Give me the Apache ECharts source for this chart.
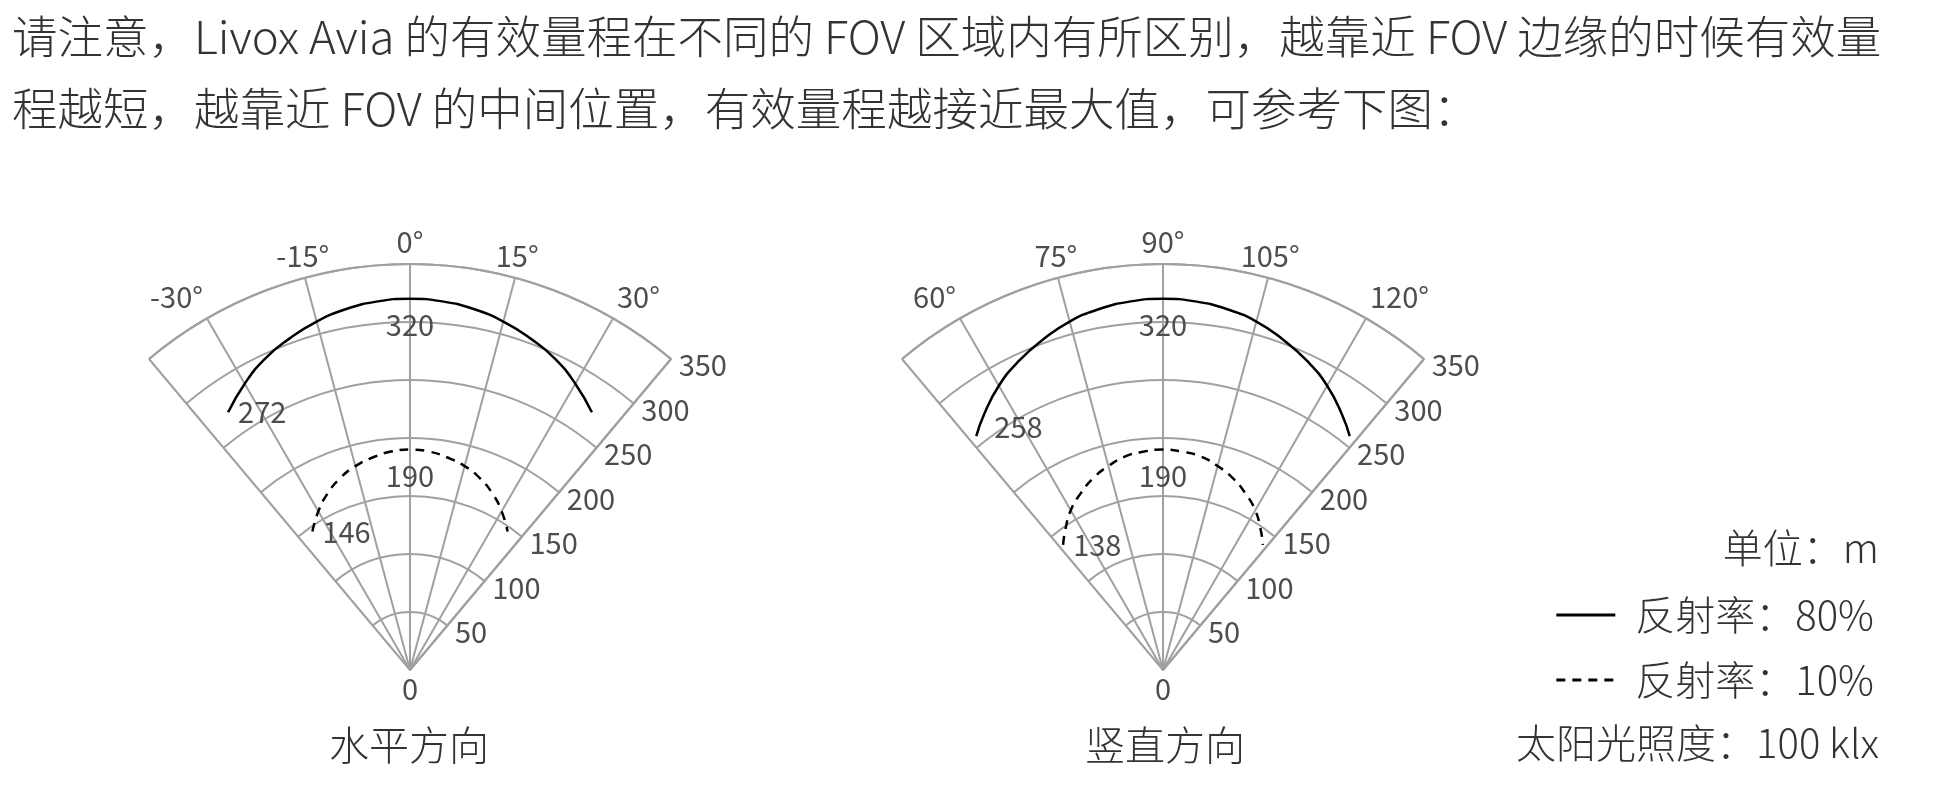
<!DOCTYPE html>
<html>
<head>
<meta charset="utf-8">
<title>Livox Avia 有效量程</title>
<script src="https://cdn.jsdelivr.net/npm/echarts@6.0.0/dist/echarts.min.js"></script>
<style>
  html, body { margin: 0; padding: 0; background: #fff; }
  #main { width: 1944px; height: 797px; }
</style>
</head>
<body>
<div id="main"></div>
<script>
// 水平方向：角度（°）与有效量程（m）
var hAngles = [-35.2, -30, -25, -20, -15, -10, -5, 0, 5, 10, 15, 20, 25, 30, 35.2];
var hRange80 = [272, 285, 296, 304, 311, 316, 319, 320, 319, 316, 311, 304, 296, 285, 272];
var hRange10 = [146, 158, 168, 176, 182, 186, 189, 190, 189, 186, 182, 176, 168, 158, 146];

// 竖直方向
var vAngles = [51.4, 55, 60, 65, 70, 75, 80, 85, 90, 95, 100, 105, 110, 115, 120, 125, 128.6];
var vRange80 = [258, 269, 283, 294, 303, 311, 316, 319, 320, 319, 316, 311, 303, 294, 283, 269, 258];
var vRange10 = [138, 147, 159, 168, 176, 182, 187, 189, 190, 189, 187, 182, 176, 168, 159, 147, 138];

var seriesNames = ['反射率：80%', '反射率：10%'];

var font = '"Noto Sans CJK SC", "Noto Sans", sans-serif';
var gridColor = '#a0a0a0';
var labelColor = '#4d4d4d';
var textColor = '#333';

var chart = echarts.init(document.getElementById('main'));

// 两个扇形的中心
var centers = [[410, 670], [1163, 670]];
var R = 406;

// 每个图两个 polar：A 画外弧、边线和量程圆弧，B 画中间的角度线和标签
var polars = [];
var angleAxes = [];
var radiusAxes = [];
centers.forEach(function (c, k) {
  var base = k * 2;
  var amin = k === 0 ? -45 : 45;
  var amax = k === 0 ? 45 : 135;
  polars.push({ center: c, radius: R });
  polars.push({ center: c, radius: R });
  angleAxes.push({
    polarIndex: base,
    type: 'value', min: 0, max: 80, interval: 40,
    startAngle: 50, endAngle: 130, clockwise: false,
    axisLine: { show: true, lineStyle: { color: gridColor, width: 2 } },
    axisTick: { show: false },
    axisLabel: { show: false },
    splitLine: { show: true, lineStyle: { color: gridColor, width: 2 } }
  });
  angleAxes.push({
    polarIndex: base + 1,
    type: 'value', min: amin, max: amax, interval: 15,
    startAngle: 135, endAngle: 45, clockwise: true,
    axisLine: { show: false },
    axisTick: { show: false },
    axisLabel: {
      margin: 8, fontSize: 29, color: labelColor, fontFamily: font,
      formatter: function (v) {
        return (v === amin || v === amax) ? '' : v + '°';
      }
    },
    splitLine: {
      show: true,
      lineStyle: {
        color: ['rgba(0,0,0,0)', gridColor, gridColor, gridColor, gridColor, gridColor, 'rgba(0,0,0,0)'],
        width: 2
      }
    }
  });
  radiusAxes.push({
    polarIndex: base,
    type: 'value', min: 0, max: 350, interval: 50,
    axisLine: { show: true, lineStyle: { color: gridColor, width: 2 } },
    axisTick: { show: false },
    axisLabel: {
      margin: -10, align: 'left', verticalAlign: 'middle', padding: [5, 0, 0, 0],
      fontSize: 29, color: labelColor, fontFamily: font,
      formatter: function (v) { return v === 0 ? '' : v; }
    },
    splitLine: { show: true, lineStyle: { color: gridColor, width: 2 } }
  });
  // 原点的 0 放在正下方
  radiusAxes.push({
    polarIndex: base + 1,
    type: 'value', min: 0, max: 350, interval: 50,
    axisLine: { show: false },
    axisTick: { show: false },
    axisLabel: {
      margin: 0, align: 'center', verticalAlign: 'top', padding: [4, 0, 0, 0],
      fontSize: 29, color: labelColor, fontFamily: font,
      formatter: function (v) { return v === 0 ? '0' : ''; }
    },
    splitLine: { show: false }
  });
});

// 数据点：左端和中间显示数值
function buildData(range, angles, endOffset) {
  var mid = Math.floor(angles.length / 2);
  return range.map(function (r, i) {
    var item = { value: [r, angles[i]] };
    if (i === 0) {
      item.label = { show: true, position: 'right', distance: 10, offset: endOffset };
    } else if (i === mid) {
      item.label = { show: true, position: 'bottom', distance: 12 };
    }
    return item;
  });
}

function lineSeries(name, polarIndex, range, angles, dashed, endOffset) {
  return {
    name: name,
    type: 'line',
    coordinateSystem: 'polar',
    polarIndex: polarIndex,
    smooth: true,
    symbol: 'circle',
    symbolSize: 0,
    showSymbol: true,
    silent: true,
    lineStyle: { color: '#000', width: 2.5, type: dashed ? [9, 7] : 'solid' },
    itemStyle: { color: '#000' },
    label: { show: false, fontSize: 29, color: labelColor, fontFamily: font, formatter: function (p) { return p.value[0]; } },
    data: buildData(range, angles, endOffset)
  };
}

var option = {
  backgroundColor: '#fff',
  animation: false,
  polar: polars,
  angleAxis: angleAxes,
  radiusAxis: radiusAxes,
  legend: {
    orient: 'vertical',
    right: 65,
    top: 588,
    itemWidth: 59,
    itemHeight: 14,
    itemGap: 21,
    selectedMode: false,
    itemStyle: { opacity: 0 },
    lineStyle: { width: 3 },
    textStyle: { fontSize: 40, color: textColor, fontFamily: font, fontWeight: 300, padding: [0, 0, 0, 15], lineHeight: 44 },
    data: seriesNames
  },
  graphic: [
    { type: 'text', left: 12, top: 14, style: { text: '请注意，Livox Avia 的有效量程在不同的 FOV 区域内有所区别，越靠近 FOV 边缘的时候有效量', fontSize: 45.5, fill: textColor, fontFamily: font, fontWeight: 300 } },
    { type: 'text', left: 12, top: 86, style: { text: '程越短，越靠近 FOV 的中间位置，有效量程越接近最大值，可参考下图：', fontSize: 45.5, fill: textColor, fontFamily: font, fontWeight: 300 } },
    { type: 'text', x: 409, y: 745, style: { text: '水平方向', fontSize: 40, fill: textColor, fontFamily: font, fontWeight: 300, align: 'center', verticalAlign: 'middle' } },
    { type: 'text', x: 1165, y: 745, style: { text: '竖直方向', fontSize: 40, fill: textColor, fontFamily: font, fontWeight: 300, align: 'center', verticalAlign: 'middle' } },
    { type: 'text', right: 65, top: 528, style: { text: '单位：m', fontSize: 40, fill: textColor, fontFamily: font, fontWeight: 300 } },
    { type: 'text', right: 65, top: 723, style: { text: '太阳光照度：100 klx', fontSize: 40, fill: textColor, fontFamily: font, fontWeight: 300 } }
  ],
  series: [
    lineSeries(seriesNames[0], 1, hRange80, hAngles, false, [0, 0]),
    lineSeries(seriesNames[1], 1, hRange10, hAngles, true, [0, 0]),
    lineSeries(seriesNames[0], 3, vRange80, vAngles, false, [8, -9]),
    lineSeries(seriesNames[1], 3, vRange10, vAngles, true, [0, 0])
  ]
};

chart.setOption(option);
window.addEventListener('resize', function () {
  chart.resize();
});
</script>
</body>
</html>
